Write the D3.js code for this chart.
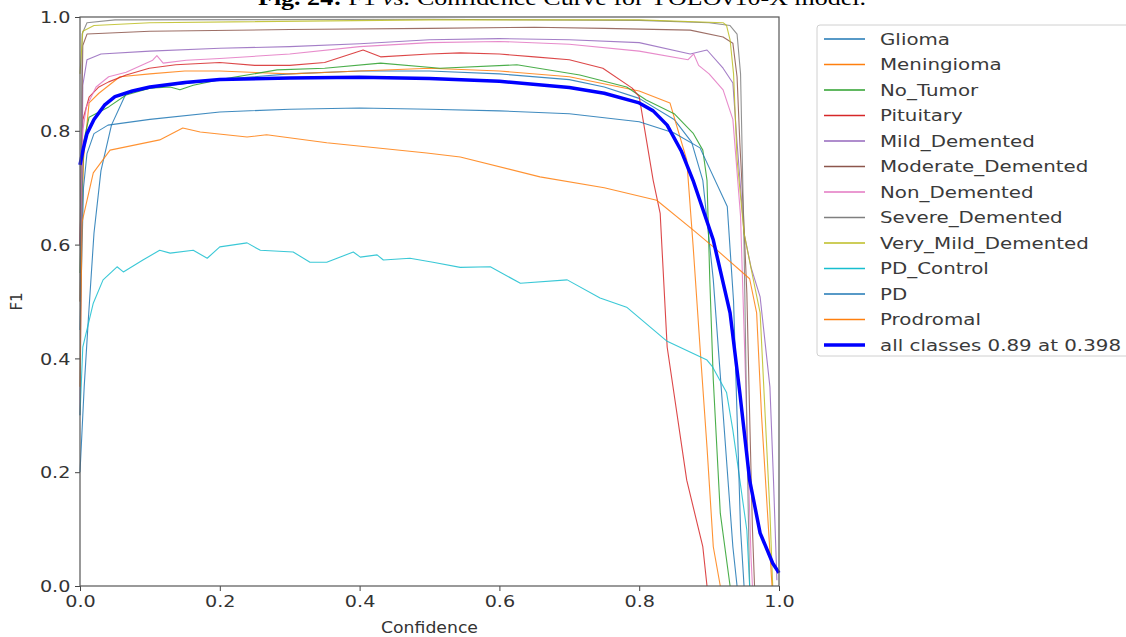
<!DOCTYPE html>
<html>
<head>
<meta charset="utf-8">
<script src="https://cdn.jsdelivr.net/npm/d3@7"></script>
<style>
  body { margin: 0; background: #fff; }
  text { font-family: "DejaVu Sans", sans-serif; }
</style>
</head>
<body>
<svg id="chart" width="1126" height="637"></svg>
<script>
// F1 vs confidence, one array of [confidence, f1] per class
const glioma = [[0,0.2],[0.006,0.35],[0.012,0.47],[0.02,0.62],[0.03,0.73],[0.045,0.81],[0.066,0.866],[0.1,0.875],[0.13,0.88],[0.2,0.89],[0.3,0.9],[0.4,0.905],[0.5,0.905],[0.6,0.9],[0.7,0.89],[0.75,0.877],[0.8,0.857],[0.85,0.82],[0.875,0.78],[0.891,0.713],[0.906,0.538],[0.92,0.304],[0.934,0.069],[0.94,0]];
const meningioma = [[0,0.5],[0.005,0.75],[0.013,0.849],[0.027,0.866],[0.057,0.895],[0.1,0.9],[0.15,0.905],[0.2,0.905],[0.3,0.9],[0.4,0.905],[0.5,0.91],[0.6,0.905],[0.7,0.895],[0.8,0.87],[0.844,0.849],[0.868,0.749],[0.877,0.6],[0.887,0.42],[0.897,0.244],[0.906,0.069],[0.916,0]];
const noTumor = [[0,0.55],[0.005,0.78],[0.013,0.824],[0.041,0.842],[0.066,0.863],[0.1,0.875],[0.129,0.877],[0.143,0.872],[0.162,0.88],[0.2,0.89],[0.282,0.907],[0.35,0.91],[0.43,0.919],[0.515,0.91],[0.625,0.916],[0.715,0.898],[0.782,0.877],[0.81,0.854],[0.85,0.83],[0.877,0.796],[0.891,0.766],[0.897,0.713],[0.901,0.538],[0.906,0.362],[0.916,0.128],[0.93,0]];
const pituitary = [[0,0.6],[0.004,0.819],[0.013,0.859],[0.027,0.877],[0.041,0.886],[0.066,0.898],[0.099,0.91],[0.137,0.916],[0.2,0.92],[0.25,0.915],[0.3,0.915],[0.35,0.92],[0.405,0.942],[0.43,0.93],[0.5,0.935],[0.544,0.937],[0.6,0.935],[0.65,0.93],[0.7,0.925],[0.748,0.91],[0.79,0.875],[0.8,0.86],[0.82,0.713],[0.83,0.655],[0.84,0.42],[0.868,0.186],[0.891,0.069],[0.897,0]];
const mildDemented = [[0,0.3],[0.004,0.88],[0.01,0.925],[0.03,0.935],[0.1,0.94],[0.2,0.945],[0.3,0.948],[0.4,0.953],[0.5,0.96],[0.6,0.962],[0.7,0.96],[0.8,0.955],[0.873,0.935],[0.897,0.942],[0.92,0.91],[0.934,0.884],[0.94,0.78],[0.95,0.62],[0.96,0.56],[0.973,0.508],[0.987,0.35],[0.992,0.19],[0.997,0.01]];
const moderateDemented = [[0,0.6],[0.004,0.95],[0.01,0.97],[0.1,0.975],[0.3,0.978],[0.5,0.98],[0.65,0.982],[0.75,0.98],[0.873,0.977],[0.92,0.965],[0.934,0.954],[0.94,0.895],[0.944,0.778],[0.949,0.66],[0.954,0.515],[0.958,0.3],[0.962,0.1],[0.965,0]];
const nonDemented = [[0,0.6],[0.004,0.8],[0.009,0.842],[0.023,0.877],[0.041,0.895],[0.066,0.903],[0.104,0.924],[0.11,0.932],[0.119,0.919],[0.152,0.924],[0.2,0.927],[0.3,0.935],[0.4,0.948],[0.5,0.955],[0.6,0.957],[0.7,0.952],[0.8,0.94],[0.87,0.925],[0.878,0.935],[0.885,0.915],[0.9,0.9],[0.92,0.872],[0.934,0.82],[0.945,0.65],[0.95,0.45],[0.955,0.25],[0.96,0.05],[0.962,0]];
const severeDemented = [[0,0.5],[0.003,0.97],[0.01,0.99],[0.05,0.995],[0.5,0.996],[0.8,0.994],[0.9,0.99],[0.93,0.985],[0.94,0.97],[0.945,0.9],[0.95,0.6],[0.955,0.2],[0.958,0]];
const veryMildDemented = [[0,0.9],[0.004,0.975],[0.02,0.985],[0.1,0.99],[0.5,0.995],[0.8,0.995],[0.92,0.99],[0.925,0.985],[0.93,0.96],[0.935,0.9],[0.94,0.75],[0.95,0.62],[0.963,0.54],[0.973,0.48],[0.987,0.13],[0.991,0]];
const pdControl = [[0,0.3],[0.004,0.42],[0.019,0.497],[0.033,0.538],[0.053,0.561],[0.062,0.552],[0.09,0.573],[0.114,0.59],[0.129,0.585],[0.162,0.59],[0.182,0.576],[0.2,0.596],[0.239,0.603],[0.258,0.59],[0.305,0.587],[0.329,0.569],[0.353,0.569],[0.391,0.587],[0.401,0.578],[0.425,0.582],[0.434,0.573],[0.472,0.576],[0.505,0.569],[0.544,0.56],[0.587,0.561],[0.63,0.532],[0.697,0.538],[0.744,0.506],[0.782,0.49],[0.84,0.43],[0.897,0.397],[0.905,0.385],[0.925,0.34],[0.934,0.274],[0.944,0.186],[0.954,0.098],[0.958,0]];
const pd = [[0,0.45],[0.005,0.7],[0.01,0.76],[0.02,0.795],[0.04,0.81],[0.1,0.82],[0.2,0.833],[0.3,0.838],[0.4,0.84],[0.5,0.838],[0.6,0.835],[0.7,0.83],[0.8,0.816],[0.85,0.796],[0.887,0.77],[0.926,0.667],[0.935,0.5],[0.94,0.3],[0.945,0.1],[0.95,0]];
const prodromal = [[0,0.35],[0.003,0.64],[0.019,0.726],[0.043,0.766],[0.114,0.784],[0.147,0.805],[0.172,0.798],[0.239,0.789],[0.267,0.793],[0.353,0.779],[0.496,0.761],[0.544,0.754],[0.658,0.719],[0.75,0.7],[0.825,0.678],[0.877,0.626],[0.906,0.596],[0.958,0.54],[0.968,0.48],[0.975,0.3],[0.985,0.1],[0.99,0]];
const allClasses = [[0,0.74],[0.005,0.77],[0.01,0.795],[0.02,0.82],[0.035,0.845],[0.05,0.86],[0.075,0.87],[0.1,0.877],[0.15,0.885],[0.2,0.89],[0.3,0.893],[0.4,0.894],[0.5,0.892],[0.6,0.887],[0.7,0.876],[0.75,0.866],[0.8,0.849],[0.82,0.835],[0.84,0.81],[0.86,0.765],[0.877,0.713],[0.906,0.608],[0.93,0.48],[0.944,0.339],[0.958,0.186],[0.973,0.093],[0.991,0.04],[1.0,0.023]];

const classNames = ["Glioma","Meningioma","No_Tumor","Pituitary","Mild_Demented","Moderate_Demented","Non_Demented","Severe_Demented","Very_Mild_Demented","PD_Control","PD","Prodromal","all classes 0.89 at 0.398"];
const classData = [glioma, meningioma, noTumor, pituitary, mildDemented, moderateDemented, nonDemented, severeDemented, veryMildDemented, pdControl, pd, prodromal, allClasses];
const classColors = ["#1f77b4","#ff7f0e","#2ca02c","#d62728","#9467bd","#8c564b","#e377c2","#7f7f7f","#bcbd22","#17becf","#1f77b4","#ff7f0e","#0000ff"];
const tickValues = [0, 0.2, 0.4, 0.6, 0.8, 1.0];

const margin = { top: 17, right: 347, bottom: 51, left: 80 };
const width = 1126 - margin.left - margin.right;
const height = 637 - margin.top - margin.bottom;

const svg = d3.select("#chart");

// title, cut off by the top edge like the source
const title = svg.append("text")
    .attr("x", 258)
    .attr("y", 5)
    .attr("textLength", 608)
    .attr("lengthAdjust", "spacingAndGlyphs")
    .style("font-family", "'Liberation Serif', serif")
    .style("font-size", "21px")
    .attr("fill", "#000");
title.append("tspan").style("font-weight", "bold").text("Fig. 24: ");
title.append("tspan").text("F1 ");
title.append("tspan").style("font-style", "italic").text("vs. ");
title.append("tspan").text("Confidence Curve for YOLOv10-X model.");

const xScale = d3.scaleLinear().domain([0, 1]).range([0, width]);
const yScale = d3.scaleLinear().domain([0, 1]).range([height, 0]);

const g = svg.append("g")
    .attr("transform", "translate(" + margin.left + "," + margin.top + ")");

g.append("defs").append("clipPath").attr("id", "plotclip")
    .append("rect").attr("x", -2).attr("y", -2).attr("width", width + 4).attr("height", height + 4);

const line = d3.line()
    .x(d => xScale(d[0]))
    .y(d => yScale(d[1]));

const lines = g.append("g").attr("clip-path", "url(#plotclip)");
classData.forEach(function (data, i) {
    lines.append("path")
        .datum(data)
        .attr("fill", "none")
        .attr("stroke", classColors[i])
        .attr("stroke-width", i === classData.length - 1 ? 3.5 : 1.1)
        .attr("stroke-linejoin", "round")
        .attr("opacity", i === classData.length - 1 ? 1 : 0.85)
        .attr("d", line);
});

// axes
const xAxis = g.append("g")
    .attr("transform", "translate(0," + height + ")")
    .call(d3.axisBottom(xScale).tickValues(tickValues).tickFormat(d3.format(".1f")).tickSize(5).tickSizeOuter(0).tickPadding(3));
const yAxis = g.append("g")
    .call(d3.axisLeft(yScale).tickValues(tickValues).tickFormat(d3.format(".1f")).tickSize(5).tickSizeOuter(0).tickPadding(3));

[xAxis, yAxis].forEach(function (ax) {
    ax.select(".domain").remove();
    ax.selectAll(".tick line").attr("stroke", "#444");
    ax.selectAll(".tick text")
        .attr("fill", "#333")
        .style("font-size", "16px")
        .style("font-family", "'DejaVu Sans', sans-serif")
        .attr("transform", "scale(1.2,1)");
});
yAxis.selectAll(".tick text").attr("x", -8).attr("dy", "0.35em");
xAxis.selectAll(".tick text").attr("y", 10);

g.append("rect")
    .attr("width", width)
    .attr("height", height)
    .attr("fill", "none")
    .attr("stroke", "#555")
    .attr("stroke-width", 1.2);

g.append("text")
    .attr("transform", "translate(" + (width * 0.5) + "," + (height + 47) + ") scale(1.15,1)")
    .attr("text-anchor", "middle")
    .attr("fill", "#333")
    .style("font-size", "15px")
    .text("Confidence");

g.append("text")
    .attr("transform", "translate(-58," + (height / 2) + ") rotate(-90)")
    .attr("text-anchor", "middle")
    .attr("fill", "#333")
    .style("font-size", "15px")
    .text("F1");

// legend
const legend = svg.append("g").attr("transform", "translate(817,25)");
legend.append("rect")
    .attr("width", 330)
    .attr("height", 331)
    .attr("rx", 3)
    .attr("fill", "#fff")
    .attr("stroke", "#d0d0d0");

const items = legend.selectAll("g.item")
    .data(classNames)
    .enter().append("g")
    .attr("class", "item")
    .attr("transform", (d, i) => "translate(0," + (14 + i * 25.5) + ")");

items.append("line")
    .attr("x1", 7).attr("x2", 48)
    .attr("stroke", (d, i) => classColors[i])
    .attr("stroke-width", (d, i) => i === classNames.length - 1 ? 3.5 : 1.3);

items.append("text")
    .attr("transform", "translate(63,0) scale(1.24,1)")
    .attr("dy", "0.35em")
    .attr("fill", "#3a3a3a")
    .style("font-size", "16px")
    .text(d => d);
</script>
</body>
</html>
